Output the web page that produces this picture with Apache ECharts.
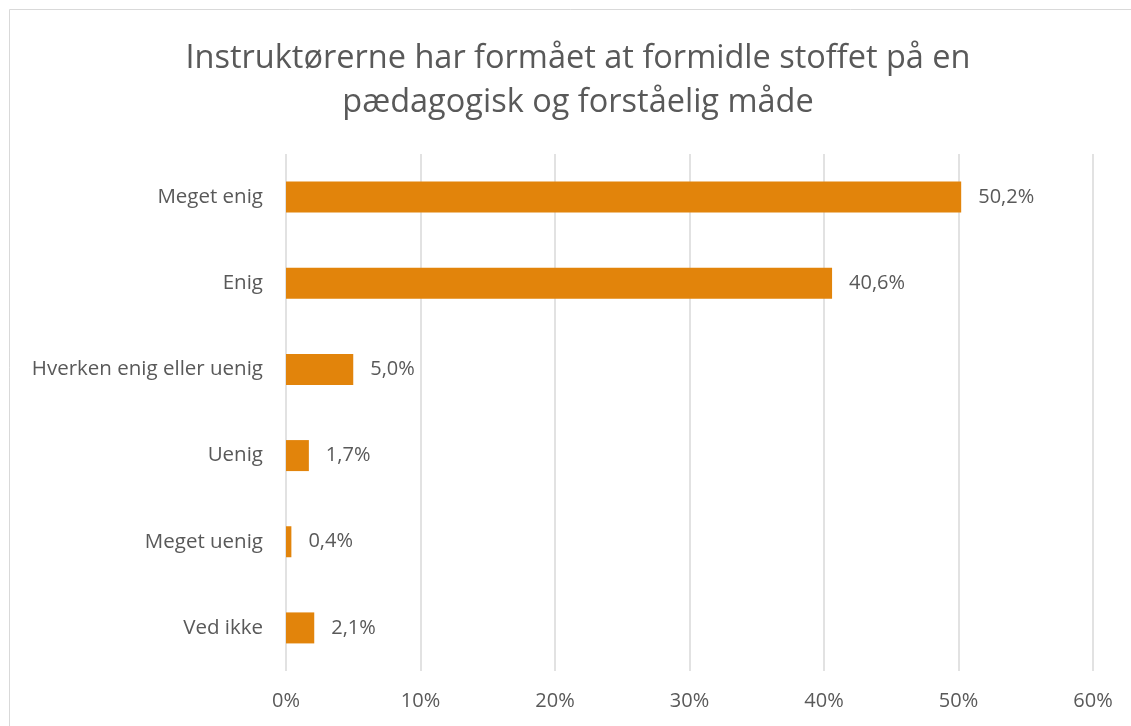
<!DOCTYPE html>
<html>
<head>
<meta charset="utf-8">
<script src="https://cdn.jsdelivr.net/npm/echarts@6/dist/echarts.min.js"></script>
<style>
  html, body { margin: 0; padding: 0; background: #fff; }
  #chart { width: 1131px; height: 726px; }
</style>
</head>
<body>
<div id="chart"></div>
<script>
  // svarkategorier og andele (%)
  const categories = ['Meget enig', 'Enig', 'Hverken enig eller uenig', 'Uenig', 'Meget uenig', 'Ved ikke'];
  const shares = [50.2, 40.6, 5.0, 1.7, 0.4, 2.1];
  const titleLines = ['Instruktørerne har formået at formidle stoffet på en', 'pædagogisk og forståelig måde'];

  const font = '"Open Sans", sans-serif';
  const grey = '#595959';

  let chart = echarts.init(document.getElementById('chart'));
  let option = {
    backgroundColor: '#fff',
    animation: false,
    title: {
      text: titleLines.join('\n'),
      left: 573,
      top: 32,
      textAlign: 'center',
      textStyle: {
        fontFamily: font,
        fontSize: 32.5,
        fontWeight: 'normal',
        color: grey,
        lineHeight: 44
      }
    },
    // kun top- og venstrekant af rammen er synlige
    graphic: [{
      type: 'line',
      shape: { x1: 9.5, y1: 9.5, x2: 1131, y2: 9.5 },
      style: { stroke: '#d9d9d9', lineWidth: 1 },
      silent: true
    }, {
      type: 'line',
      shape: { x1: 9.5, y1: 9.5, x2: 9.5, y2: 726 },
      style: { stroke: '#d9d9d9', lineWidth: 1 },
      silent: true
    }],
    grid: { left: 286, right: 38, top: 154, bottom: 55 },
    xAxis: {
      type: 'value',
      min: 0,
      max: 60,
      interval: 10,
      axisLine: { show: false },
      axisTick: { show: false },
      splitLine: { lineStyle: { color: '#d9d9d9', width: 1.5 } },
      axisLabel: {
        formatter: '{value}%',
        fontFamily: font,
        fontSize: 20,
        color: grey,
        margin: 20
      }
    },
    yAxis: {
      type: 'category',
      inverse: true,
      data: categories,
      axisLine: { show: false },
      axisTick: { show: false },
      axisLabel: {
        fontFamily: font,
        fontSize: 20.5,
        color: grey,
        margin: 23
      }
    },
    series: [{
      type: 'bar',
      data: shares,
      barWidth: 31,
      itemStyle: { color: '#E2840B' },
      label: {
        show: true,
        position: 'right',
        distance: 17,
        fontFamily: font,
        fontSize: 20,
        color: grey,
        formatter: p => p.value.toFixed(1).replace('.', ',') + '%'
      }
    }]
  };
  chart.setOption(option);
</script>
</body>
</html>
